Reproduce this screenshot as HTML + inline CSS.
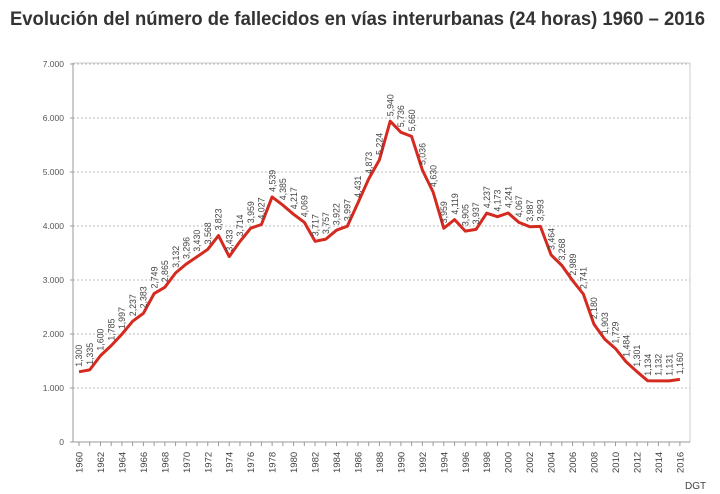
<!DOCTYPE html>
<html><head><meta charset="utf-8"><style>
html,body{margin:0;padding:0;background:#fff;width:720px;height:494px;overflow:hidden}
svg{display:block}
</style></head><body>
<svg id="s" width="720" height="494" xmlns="http://www.w3.org/2000/svg" font-family="Liberation Sans, sans-serif">
<text x="10" y="25" font-family="Liberation Sans Narrow, Liberation Sans, sans-serif" font-weight="bold" font-size="19" fill="#333" textLength="695" lengthAdjust="spacingAndGlyphs">Evolución del número de fallecidos en vías interurbanas (24 horas) 1960 – 2016</text>
<text x="685" y="489" font-size="10" fill="#444">DGT</text>
</svg>
<script>
var d=[1300,1335,1600,1785,1997,2237,2383,2749,2865,3132,3296,3430,3568,3823,3433,3714,3959,4027,4539,4385,4217,4069,3717,3757,3922,3997,4431,4873,5224,5940,5736,5660,5036,4630,3959,4119,3905,3937,4237,4173,4241,4067,3987,3993,3464,3268,2989,2741,2180,1903,1729,1484,1301,1134,1132,1131,1160];
var s=document.getElementById('s'),h='';
function X(i){return 79+i*10.73}function Y(v){return 442-v*0.054}
for(var k=1;k<=7;k++){var y=Y(k*1000);h+='<line x1="73" x2="690" y1="'+y+'" y2="'+y+'" stroke="#bbb" stroke-width="1" stroke-dasharray="2,2"/>';}
h+='<line x1="73" x2="690" y1="63" y2="63" stroke="#ccc"/><line x1="690" x2="690" y1="63" y2="442" stroke="#ccc"/>';
h+='<line x1="73" x2="73" y1="63" y2="442" stroke="#999"/><line x1="70" x2="690" y1="442" y2="442" stroke="#999"/>';
for(k=0;k<=7;k++){var y=Y(k*1000);var t=k?k+'.000':'0';h+='<text x="64" y="'+(y+3)+'" font-size="8.5" fill="#555" text-anchor="end">'+t+'</text><line x1="70" x2="73" y1="'+y+'" y2="'+y+'" stroke="#999"/>';}
for(var i=0;i<57;i++){var x=X(i);h+='<line x1="'+x+'" x2="'+x+'" y1="442" y2="446" stroke="#999"/>';
if(i%2==0)h+='<text transform="translate('+(x+3.5)+',473) rotate(-90)" font-size="9.5" fill="#444">'+(1960+i)+'</text>';}
var p='';for(i=0;i<57;i++)p+=(i?'L':'M')+X(i).toFixed(1)+','+Y(d[i]).toFixed(1);
h+='<path d="'+p+'" fill="none" stroke="#d42a20" stroke-width="3" stroke-linejoin="round"/>';
for(i=0;i<57;i++){var t=(d[i]/1000).toFixed(3).replace('.',',');h+='<text transform="translate('+(X(i)+3.2)+','+(Y(d[i])-5)+') rotate(-90)" font-size="8.8" fill="#444">'+t+'</text>';}
s.insertAdjacentHTML('beforeend',h);
</script>
</body></html>
